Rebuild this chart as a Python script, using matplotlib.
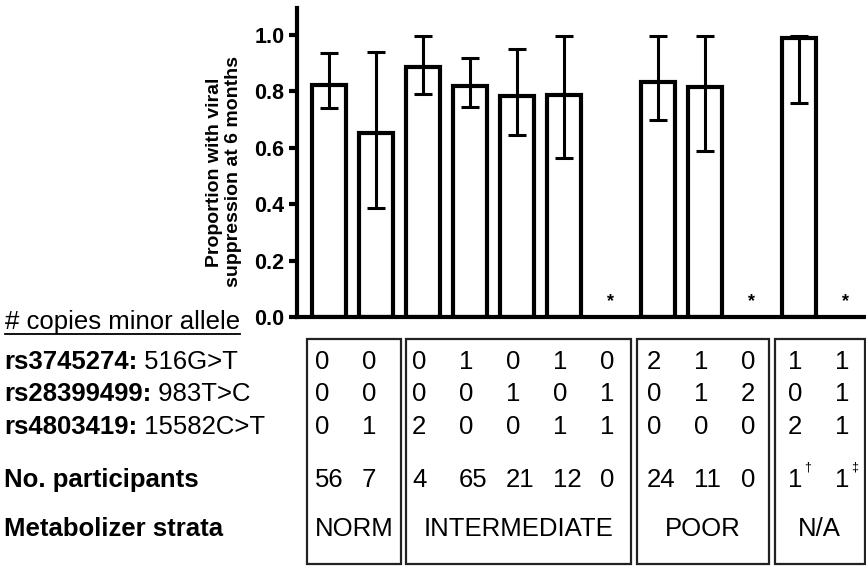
import numpy as np
import matplotlib
matplotlib.use('Agg')
import matplotlib.pyplot as plt
from matplotlib.patches import Rectangle
from matplotlib.lines import Line2D
from matplotlib.transforms import blended_transform_factory

plt.rcParams['font.family'] = ['Liberation Sans', 'DejaVu Sans']

# Proportion with viral suppression (missing = no participants, shown as *)
proportion = [0.824, 0.653, 0.887, 0.82, 0.784, 0.786, np.nan, 0.833, 0.816, np.nan, 0.99, np.nan]
ci_low = [0.74, 0.385, 0.79, 0.745, 0.645, 0.565, np.nan, 0.70, 0.59, np.nan, 0.76, np.nan]
ci_high = [0.935, 0.94, 0.995, 0.917, 0.95, 0.995, np.nan, 0.995, 0.995, np.nan, 0.995, np.nan]

# copies of minor allele per column
rs3745274 = [0, 0, 0, 1, 0, 1, 0, 2, 1, 0, 1, 1]
rs28399499 = [0, 0, 0, 0, 1, 0, 1, 0, 1, 2, 0, 1]
rs4803419 = [0, 1, 2, 0, 0, 1, 1, 0, 0, 0, 2, 1]
participants = [56, 7, 4, 65, 21, 12, 0, 24, 11, 0, 1, 1]
footnotes = ['', '', '', '', '', '', '', '', '', '', '\u2020', '\u2021']

strata = ['NORM', 'INTERMEDIATE', 'POOR', 'N/A']
strata_edges = [(-0.47, 1.53), (1.63, 6.43), (6.55, 9.36), (9.49, 11.40)]

W, H = 866, 566
fig = plt.figure(figsize=(W / 100, H / 100), dpi=100)


def fy(px):
    return 1 - px / H


ax = fig.add_axes([297 / W, fy(317), (W - 297) / W, (317 - 8) / H])

x = np.arange(len(proportion))
p = np.array(proportion)
lo = np.array(ci_low)
hi = np.array(ci_high)
ok = ~np.isnan(p)

ax.bar(x[ok], p[ok], width=0.72, facecolor='white', edgecolor='black', linewidth=3, zorder=2)
ax.errorbar(x[ok], p[ok], yerr=[p[ok] - lo[ok], hi[ok] - p[ok]], fmt='none',
            ecolor='black', elinewidth=2.2, capsize=6.5, capthick=2.2, zorder=3)
for xi in x[~ok]:
    ax.text(xi, 0.055, '*', ha='center', va='center', fontsize=13, fontweight='bold')

ax.set_xlim(-0.68, 11.43)
ax.set_ylim(0, 1.096)
ax.set_xticks([])
ax.set_yticks(np.arange(0, 1.01, 0.2))
ax.set_yticklabels(['%.1f' % v for v in np.arange(0, 1.01, 0.2)], fontweight='bold')
ax.tick_params(axis='y', direction='out', length=6, width=3, labelsize=15.5, pad=3)
for s in ['top', 'right']:
    ax.spines[s].set_visible(False)
for s in ['left', 'bottom']:
    ax.spines[s].set_linewidth(3)

fig.text(224 / W, fy(172), 'Proportion with viral\nsuppression at 6 months', rotation=90,
         ha='center', va='center', fontsize=14, fontweight='bold', linespacing=1.1)

# table below the bars
fs = 18.5
trans = blended_transform_factory(ax.transData, fig.transFigure)
row_base = [369, 401, 434, 487, 536]

head = fig.text(5 / W, fy(329), '# copies minor allele', fontsize=fs, va='baseline')
labels = [('rs3745274:', ' 516G>T'), ('rs28399499:', ' 983T>C'),
          ('rs4803419:', ' 15582C>T'), ('No. participants', ''),
          ('Metabolizer strata', '')]
for (bold, rest), ypx in zip(labels, row_base):
    t = fig.text(4 / W, fy(ypx), bold, fontsize=fs, fontweight='bold', va='baseline')
    if rest:
        ax.annotate(rest, xy=(1, 0), xycoords=t, ha='left', va='bottom', fontsize=fs)

rows = [rs3745274, rs28399499, rs4803419, participants]
for vals, ypx in zip(rows, row_base):
    for xi, v in zip(x, vals):
        shift = 0.3 if xi < 2 else 0.23
        t = fig.text(xi - shift, fy(ypx), str(v), transform=trans, fontsize=fs, va='baseline')
        if vals is participants and footnotes[xi]:
            ax.annotate(footnotes[xi], xy=(1, 1), xycoords=t, xytext=(1.5, -4),
                        textcoords='offset points', ha='left', va='bottom', fontsize=9)

for name, (x0, x1) in zip(strata, strata_edges):
    fig.add_artist(Rectangle((x0, fy(564)), x1 - x0, fy(339) - fy(564), transform=trans,
                             fill=False, linewidth=1.6, edgecolor='#222222'))
    fig.text((x0 + x1) / 2, fy(row_base[4]), name, transform=trans, fontsize=fs,
             ha='center', va='baseline')

fig.canvas.draw()
bb = head.get_window_extent()
fig.add_artist(Line2D([bb.x0 / W, bb.x1 / W], [fy(333.5), fy(333.5)], transform=fig.transFigure,
                      color='black', linewidth=1.3))

fig.savefig('out.png', dpi=100)
